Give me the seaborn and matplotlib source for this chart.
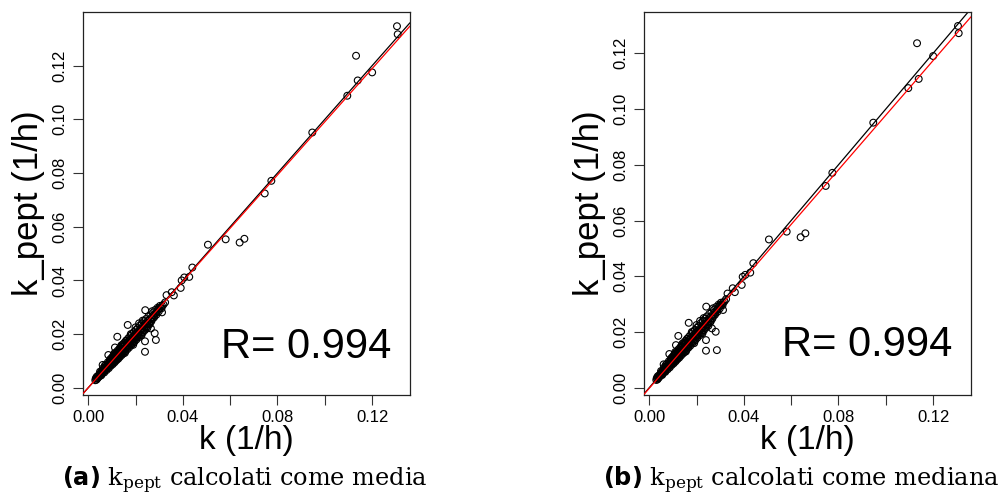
import numpy as np
import pandas as pd
import matplotlib
matplotlib.use("Agg")
import matplotlib.pyplot as plt
import seaborn as sns

# ---- peptide turnover rates: protein k vs. peptide-derived k_pept ----
# fast-turnover / isolated peptides (shared k, two aggregations of k_pept)
k_tail = [0.1305, 0.1308, 0.1132, 0.1139, 0.1200, 0.1095, 0.0947, 0.0774,
          0.0746, 0.0660, 0.0640, 0.0581, 0.0506, 0.0440, 0.0427, 0.0406,
          0.0395, 0.0391, 0.0362, 0.0353, 0.0331, 0.0312, 0.0286, 0.0281,
          0.0265, 0.0240, 0.0240, 0.0241, 0.0167, 0.0123, 0.0085, 0.0061,
          0.0113]
k_pept_media_tail = [0.1347, 0.1317, 0.1237, 0.1145, 0.1175, 0.1088, 0.0951,
                     0.0771, 0.0724, 0.0555, 0.0541, 0.0553, 0.0533, 0.0448,
                     0.0413, 0.0411, 0.0400, 0.0372, 0.0344, 0.0356, 0.0345,
                     0.0281, 0.0178, 0.0203, 0.0221, 0.0173, 0.0134, 0.0289,
                     0.0234, 0.0190, 0.0122, 0.0085, 0.0150]
k_pept_mediana_tail = [0.1298, 0.1272, 0.1236, 0.1108, 0.1190, 0.1075, 0.0951,
                       0.0771, 0.0724, 0.0554, 0.0540, 0.0560, 0.0532, 0.0447,
                       0.0413, 0.0405, 0.0398, 0.0369, 0.0343, 0.0357, 0.0338,
                       0.0279, 0.0135, 0.0201, 0.0213, 0.0171, 0.0133, 0.0291,
                       0.0233, 0.0186, 0.0121, 0.0084, 0.0153]

# dense bulk of slow-turnover peptides
k_bulk = [0.0030, 0.0032, 0.0035, 0.0036, 0.0038, 0.0040, 0.0042, 0.0044,
          0.0047, 0.0049, 0.0052, 0.0054, 0.0056, 0.0058, 0.0060, 0.0063,
          0.0065, 0.0067, 0.0069, 0.0071, 0.0073, 0.0075, 0.0077, 0.0079,
          0.0080, 0.0082, 0.0084, 0.0086, 0.0088, 0.0090, 0.0091, 0.0093,
          0.0095, 0.0097, 0.0098, 0.0100, 0.0101, 0.0103, 0.0105, 0.0106,
          0.0108, 0.0110, 0.0111, 0.0113, 0.0115, 0.0116, 0.0118, 0.0120,
          0.0121, 0.0123, 0.0125, 0.0126, 0.0128, 0.0130, 0.0131, 0.0133,
          0.0135, 0.0136, 0.0138, 0.0140, 0.0141, 0.0143, 0.0145, 0.0146,
          0.0148, 0.0150, 0.0152, 0.0154, 0.0156, 0.0158, 0.0160, 0.0162,
          0.0164, 0.0166, 0.0168, 0.0170, 0.0172, 0.0175, 0.0177, 0.0179,
          0.0182, 0.0184, 0.0186, 0.0189, 0.0191, 0.0194, 0.0197, 0.0199,
          0.0202, 0.0205, 0.0208, 0.0211, 0.0214, 0.0217, 0.0220, 0.0223,
          0.0226, 0.0229, 0.0232, 0.0235, 0.0238, 0.0241, 0.0245, 0.0248,
          0.0252, 0.0256, 0.0260, 0.0264, 0.0268, 0.0272, 0.0276, 0.0280,
          0.0285, 0.0290, 0.0295, 0.0300, 0.0306, 0.0312, 0.0318, 0.0325,
          0.0095, 0.0140, 0.0180, 0.0200, 0.0155, 0.0190, 0.0225, 0.0250,
          0.0110, 0.0070, 0.0160, 0.0215, 0.0230, 0.0270, 0.0120, 0.0260,
          0.0050, 0.0055, 0.0062, 0.0068, 0.0074, 0.0078, 0.0083, 0.0087,
          0.0092, 0.0096, 0.0102, 0.0104, 0.0109, 0.0112, 0.0117, 0.0119,
          0.0124, 0.0127, 0.0132, 0.0134, 0.0139, 0.0142, 0.0147, 0.0149,
          0.0153, 0.0157, 0.0161, 0.0165, 0.0169, 0.0173, 0.0178, 0.0181,
          0.0185, 0.0188, 0.0193, 0.0196, 0.0201, 0.0204, 0.0209, 0.0213,
          0.0218, 0.0222, 0.0227, 0.0231, 0.0236, 0.0240, 0.0244, 0.0249,
          0.0254, 0.0258, 0.0263, 0.0267, 0.0274, 0.0278, 0.0283, 0.0288,
          0.0293, 0.0298, 0.0303, 0.0310]
k_pept_bulk = [0.0028, 0.0035, 0.0030, 0.0041, 0.0034, 0.0037, 0.0045, 0.0040,
               0.0043, 0.0052, 0.0047, 0.0058, 0.0050, 0.0061, 0.0055, 0.0066,
               0.0059, 0.0070, 0.0063, 0.0075, 0.0068, 0.0078, 0.0071, 0.0083,
               0.0074, 0.0086, 0.0077, 0.0092, 0.0081, 0.0095, 0.0084, 0.0099,
               0.0087, 0.0102, 0.0090, 0.0107, 0.0093, 0.0099, 0.0112, 0.0096,
               0.0104, 0.0117, 0.0100, 0.0109, 0.0121, 0.0106, 0.0113, 0.0127,
               0.0110, 0.0118, 0.0131, 0.0115, 0.0123, 0.0137, 0.0119, 0.0128,
               0.0142, 0.0124, 0.0133, 0.0146, 0.0128, 0.0138, 0.0152, 0.0133,
               0.0143, 0.0157, 0.0139, 0.0148, 0.0161, 0.0145, 0.0153, 0.0167,
               0.0150, 0.0159, 0.0172, 0.0156, 0.0165, 0.0178, 0.0162, 0.0171,
               0.0184, 0.0168, 0.0178, 0.0190, 0.0175, 0.0185, 0.0197, 0.0183,
               0.0193, 0.0204, 0.0190, 0.0201, 0.0212, 0.0199, 0.0210, 0.0221,
               0.0207, 0.0219, 0.0230, 0.0216, 0.0228, 0.0240, 0.0226, 0.0238,
               0.0249, 0.0240, 0.0255, 0.0250, 0.0262, 0.0258, 0.0270, 0.0268,
               0.0278, 0.0282, 0.0290, 0.0296, 0.0298, 0.0305, 0.0310, 0.0318,
               0.0108, 0.0158, 0.0200, 0.0225, 0.0130, 0.0160, 0.0195, 0.0222,
               0.0128, 0.0082, 0.0175, 0.0240, 0.0250, 0.0285, 0.0105, 0.0238,
               0.0060, 0.0046, 0.0072, 0.0057, 0.0085, 0.0066, 0.0095, 0.0073,
               0.0104, 0.0082, 0.0115, 0.0088, 0.0122, 0.0095, 0.0131, 0.0102,
               0.0138, 0.0108, 0.0146, 0.0115, 0.0153, 0.0122, 0.0162, 0.0128,
               0.0168, 0.0136, 0.0176, 0.0143, 0.0184, 0.0150, 0.0193, 0.0158,
               0.0200, 0.0165, 0.0208, 0.0172, 0.0215, 0.0180, 0.0222, 0.0188,
               0.0232, 0.0197, 0.0240, 0.0206, 0.0248, 0.0215, 0.0256, 0.0228,
               0.0265, 0.0236, 0.0270, 0.0248, 0.0280, 0.0262, 0.0290, 0.0272,
               0.0298, 0.0284, 0.0305, 0.0296]

# identity line and least-squares fit (slope, intercept) for each aggregation
identity = (1.0, 0.0)
fit_media = (0.991, 0.0000)
fit_mediana = (0.980, -0.0002)
r_value = "R= 0.994"

x_ticks = [0.00, 0.02, 0.04, 0.06, 0.08, 0.10, 0.12]
x_tick_labels = ["0.00", "", "0.04", "", "0.08", "", "0.12"]
y_ticks = [0.00, 0.02, 0.04, 0.06, 0.08, 0.10, 0.12]
y_tick_labels = ["0.00", "0.02", "0.04", "0.06", "0.08", "0.10", "0.12"]

captions = [r"$\mathbf{(a)}$ $\mathregular{k_{pept}}$ calcolati come media",
            r"$\mathbf{(b)}$ $\mathregular{k_{pept}}$ calcolati come mediana"]

sns.set_style("ticks")
plt.rcParams["font.family"] = ["Liberation Sans", "DejaVu Sans"]
plt.rcParams["text.color"] = "black"
plt.rcParams["axes.labelcolor"] = "black"
plt.rcParams["xtick.color"] = "black"
plt.rcParams["ytick.color"] = "black"
plt.rcParams["mathtext.fontset"] = "custom"
plt.rcParams["mathtext.rm"] = "DejaVu Serif"
plt.rcParams["mathtext.bf"] = "DejaVu Sans:bold"
plt.rcParams["mathtext.it"] = "DejaVu Serif:italic"

fig = plt.figure(figsize=(10.08, 4.95), dpi=100)

panels = [
    dict(rect=[83 / 1008, 100 / 495, 327 / 1008, 383 / 495],
         y=k_pept_media_tail, fit=fit_media,
         xlim=(-0.0022, 0.1360), ylim=(-0.0027, 0.1400), caption_x=245 / 1008),
    dict(rect=[644 / 1008, 100 / 495, 327 / 1008, 383 / 495],
         y=k_pept_mediana_tail, fit=fit_mediana,
         xlim=(-0.0022, 0.1360), ylim=(-0.0026, 0.1348), caption_x=801 / 1008),
]

for p, cap in zip(panels, captions):
    ax = fig.add_axes(p["rect"])
    df = pd.DataFrame({"k": k_bulk + k_tail, "k_pept": k_pept_bulk + p["y"]})
    sns.scatterplot(data=df, x="k", y="k_pept", ax=ax, marker="o", s=24,
                    facecolor="none", edgecolor="black", linewidth=0.8,
                    zorder=3)
    ax.axline((0, identity[1]), slope=identity[0], color="black", lw=0.9, zorder=2)
    ax.axline((0, p["fit"][1]), slope=p["fit"][0], color="red", lw=0.9, zorder=4)

    ax.set_xlim(*p["xlim"])
    ax.set_ylim(*p["ylim"])
    ax.set_xticks(x_ticks)
    ax.set_xticklabels(x_tick_labels)
    ax.set_yticks(y_ticks)
    ax.set_yticklabels(y_tick_labels, rotation=90, va="center")
    ax.tick_params(direction="out", length=7, width=0.8, labelsize=12,
                   color="#333333", labelcolor="black", pad=4)
    for sp in ax.spines.values():
        sp.set_visible(True)
        sp.set_linewidth(0.9)
        sp.set_color("#222222")

    ax.set_xlabel("k (1/h)", fontsize=24)
    ax.set_ylabel("k_pept (1/h)", fontsize=25)
    ax.xaxis.set_label_coords(0.5, -0.12)
    ax.xaxis.label.set_verticalalignment("center")
    ax.yaxis.set_label_coords(-0.168, 0.5)
    ax.yaxis.label.set_verticalalignment("center")

    ax.text(0.0923, 0.0152, r_value, fontsize=30, ha="center", va="center")

    fig.text(p["caption_x"], 1 - 480 / 495, cap, fontsize=17.3,
             family="DejaVu Serif", ha="center", va="center")

fig.savefig("out.png", dpi=100)
